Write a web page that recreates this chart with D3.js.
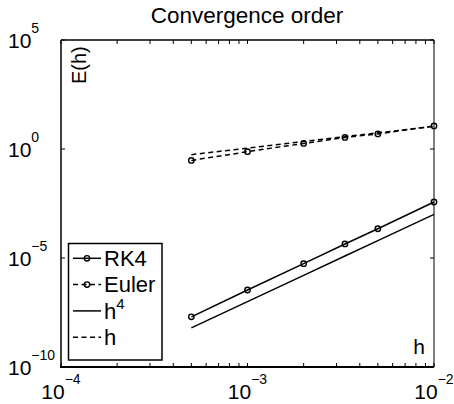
<!DOCTYPE html>
<html>
<head>
<meta charset="utf-8">
<script src="https://cdn.jsdelivr.net/npm/d3@7"></script>
<style>
body { margin: 0; background: #fff; }
text { font-family: "Liberation Sans", Arial, sans-serif; fill: #000; }
</style>
</head>
<body>
<svg id="chart" width="454" height="404"></svg>
<script>
// step sizes and errors
var h_vals = [5e-4, 1e-3, 2e-3, 3.33e-3, 5e-3, 1e-2];
var rk4_err = [2.0e-8, 3.4e-7, 5.5e-6, 4.4e-5, 2.2e-4, 3.7e-3];
var euler_err = [0.30, 0.75, 1.8, 3.4, 4.9, 11.5];
var ref_h4 = [6.25e-9, 1e-7, 1.6e-6, 1.23e-5, 6.25e-5, 1e-3];
var ref_h = [0.55, 1.1, 2.2, 3.7, 5.5, 11];

var x_ticks = [1e-4, 1e-3, 1e-2];
var x_exp = ["\u22124", "\u22123", "\u22122"];
var y_ticks = [1e5, 1e0, 1e-5, 1e-10];
var y_exp = ["5", "0", "\u22125", "\u221210"];

var legend_names = ["RK4", "Euler", "h", "h"];
var legend_sup = ["", "", "4", ""];

var series = [
    {vals: rk4_err, dash: null, marker: true},
    {vals: euler_err, dash: "5,3.5", marker: true},
    {vals: ref_h4, dash: null, marker: false},
    {vals: ref_h, dash: "5,3.5", marker: false}
];

var p_left = 61, p_right = 434, p_top = 40, p_bottom = 367;

var svg = d3.select("#chart");

var x = d3.scaleLog().domain([1e-4, 1e-2]).range([p_left, p_right]);
var y = d3.scaleLog().domain([1e-10, 1e5]).range([p_bottom, p_top]);

var line = d3.line()
    .x(function(d){ return x(d[0]); })
    .y(function(d){ return y(d[1]); });

// data lines
var g_lines = svg.append("g");
series.forEach(function(s){
    var pts = h_vals.map(function(h, i){ return [h, s.vals[i]]; });
    g_lines.append("path")
        .attr("d", line(pts))
        .attr("fill", "none")
        .attr("stroke", "#000")
        .attr("stroke-width", 1.5)
        .attr("stroke-dasharray", s.dash);
    if (s.marker) {
        g_lines.selectAll(null).data(pts).enter().append("circle")
            .attr("cx", function(d){ return x(d[0]); })
            .attr("cy", function(d){ return y(d[1]); })
            .attr("r", 2.7)
            .attr("fill", "none")
            .attr("stroke", "#000")
            .attr("stroke-width", 1.4);
    }
});

// minor + major ticks on x (inside, top and bottom)
var x_all = [];
[1e-4, 1e-3].forEach(function(d){
    for (var k = 1; k < 10; k++) x_all.push(d * k);
});
x_all.push(1e-2);
var g_ticks = svg.append("g").attr("stroke", "#000").attr("stroke-width", 1);
x_all.forEach(function(v){
    g_ticks.append("line").attr("x1", x(v)).attr("x2", x(v)).attr("y1", p_bottom).attr("y2", p_bottom - 4);
    g_ticks.append("line").attr("x1", x(v)).attr("x2", x(v)).attr("y1", p_top).attr("y2", p_top + 4);
});
y_ticks.forEach(function(v){
    g_ticks.append("line").attr("x1", p_left).attr("x2", p_left + 4).attr("y1", y(v)).attr("y2", y(v));
    g_ticks.append("line").attr("x1", p_right).attr("x2", p_right - 4).attr("y1", y(v)).attr("y2", y(v));
});

// box
svg.append("line").attr("x1", p_left).attr("x2", p_right).attr("y1", p_top).attr("y2", p_top)
    .attr("stroke", "#000").attr("stroke-width", 1.5);
svg.append("line").attr("x1", p_left - 1).attr("x2", p_right).attr("y1", p_bottom).attr("y2", p_bottom)
    .attr("stroke", "#000").attr("stroke-width", 2);
svg.append("line").attr("x1", p_left).attr("x2", p_left).attr("y1", p_top).attr("y2", p_bottom)
    .attr("stroke", "#000").attr("stroke-width", 1.5);
svg.append("line").attr("x1", p_right).attr("x2", p_right).attr("y1", p_top).attr("y2", p_bottom)
    .attr("stroke", "#000").attr("stroke-width", 1);

// tick labels
x_ticks.forEach(function(v, i){
    var t = svg.append("text")
        .attr("x", x(v))
        .attr("y", 399)
        .attr("text-anchor", "middle")
        .style("font-size", "21px");
    t.append("tspan").text("10");
    t.append("tspan").attr("dy", -15).style("font-size", "14px").text(x_exp[i]);
});
y_ticks.forEach(function(v, i){
    var t = svg.append("text")
        .attr("x", 8)
        .attr("y", y(v) + 8)
        .style("font-size", "21px");
    t.append("tspan").text("10");
    t.append("tspan").attr("dy", -15).style("font-size", "14px").text(y_exp[i]);
});

// title and axis labels
svg.append("text").attr("x", 247).attr("y", 23).attr("text-anchor", "middle")
    .style("font-size", "22.5px").text("Convergence order");
svg.append("text").attr("transform", "translate(86,84) rotate(-90)")
    .style("font-size", "20px").text("E(h)");
svg.append("text").attr("x", 425).attr("y", 354).attr("text-anchor", "end")
    .style("font-size", "21px").text("h");

// legend
var lg = svg.append("g");
lg.append("rect").attr("x", 68.5).attr("y", 243.5).attr("width", 93.5).attr("height", 116.5)
    .attr("fill", "#fff").attr("stroke", "#000").attr("stroke-width", 1.5);
series.forEach(function(s, i){
    var yy = 258.3 + i * 26.3;
    lg.append("line").attr("x1", 73).attr("x2", 101).attr("y1", yy).attr("y2", yy)
        .attr("stroke", "#000").attr("stroke-width", 1.5)
        .attr("stroke-dasharray", s.dash);
    if (s.marker) {
        lg.append("circle").attr("cx", 87).attr("cy", yy).attr("r", 2.7)
            .attr("fill", "none").attr("stroke", "#000").attr("stroke-width", 1.4);
    }
    var t = lg.append("text").attr("x", 104).attr("y", yy + 7.7).style("font-size", "22px");
    t.append("tspan").text(legend_names[i]);
    if (legend_sup[i]) t.append("tspan").attr("dy", -10).style("font-size", "15px").text(legend_sup[i]);
});
</script>
</body>
</html>
